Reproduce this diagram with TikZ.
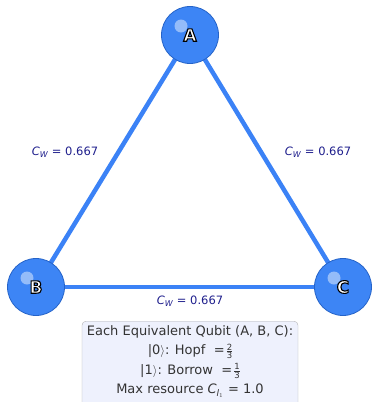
\documentclass[tikz,border=0pt]{standalone}
\usepackage{amsmath}
\usepackage{fontspec}
\setmainfont{DejaVu Sans}
\usetikzlibrary{positioning, calc, backgrounds}
\definecolor{edgeblue}{RGB}{59,130,246}
\definecolor{nodeblue}{RGB}{61,133,245}
\definecolor{rimblue}{RGB}{37,99,200}
\definecolor{navy}{RGB}{30,30,140}
\definecolor{boxfill}{RGB}{238,241,253}
\newcommand{\fracsm}[2]{$\vcenter{\hbox{\fontsize{8.5}{8.5}\selectfont#1}\kern0.8pt\hrule height0.45pt\kern0.8pt\hbox{\fontsize{8.5}{8.5}\selectfont#2}}$}
\newcommand{\cw}{{\itshape C}$_{\textit{W}}$ = 0.667}
\newcommand{\outlined}[1]{\textcolor{white}{\special{pdf:literal direct 2 Tr 1.1 w 0 0 0 RG}#1\special{pdf:literal direct 0 Tr}}}

\begin{document}
\begin{tikzpicture}[x=1pt, y=-1pt,
  qubit/.style={circle, fill=nodeblue, draw=rimblue, line width=0.8pt,
    minimum size=57pt, inner sep=0pt,
    font=\fontsize{17}{17}\selectfont\bfseries,
    path picture={\fill[white, opacity=0.45]
      ([shift={(-9pt,9pt)}]path picture bounding box.center) circle (6.5pt);}},
  link/.style={edgeblue, line width=4.5pt},
  weight/.style={text=navy, font=\fontsize{11.5}{11.5}\selectfont}]
  \useasboundingbox (0,0) rectangle (372,402);
  \clip (0,0) rectangle (372,402);
  % qubits
  \node[qubit] (A) at (190,35) {\outlined{A}};
  \node[qubit] (B) at (36,287) {\outlined{B}};
  \node[qubit] (C) at (343,287) {\outlined{C}};
  % links
  \begin{scope}[on background layer]
    \draw[link] (A.center) -- (B.center);
    \draw[link] (A.center) -- (C.center);
    \draw[link] (B.center) -- (C.center);
  \end{scope}
  % weights
  \node[weight] (wAB) at (65,152) {\cw};
  \node[weight] (wAC) at (318,152) {\cw};
  \node[weight] (wBC) at (190,301) {\cw};
  % summary box
  \node[draw=black!30, fill=boxfill, rounded corners=4pt, anchor=north,
    minimum width=216pt, inner xsep=4pt, inner ysep=4pt, align=center,
    text=black!80, font=\fontsize{13}{19.5}\selectfont] (info) at (190,321)
    {Each Equivalent Qubit (A, B, C):\\
     |0$\rangle$: Hopf \ =\,\fracsm{2}{3}\\
     |1$\rangle$: Borrow \ =\,\fracsm{1}{3}\\
     Max resource {\itshape C}$_{\textit{l}_1}$ = 1.0\\[6pt]};
\end{tikzpicture}
\end{document}
